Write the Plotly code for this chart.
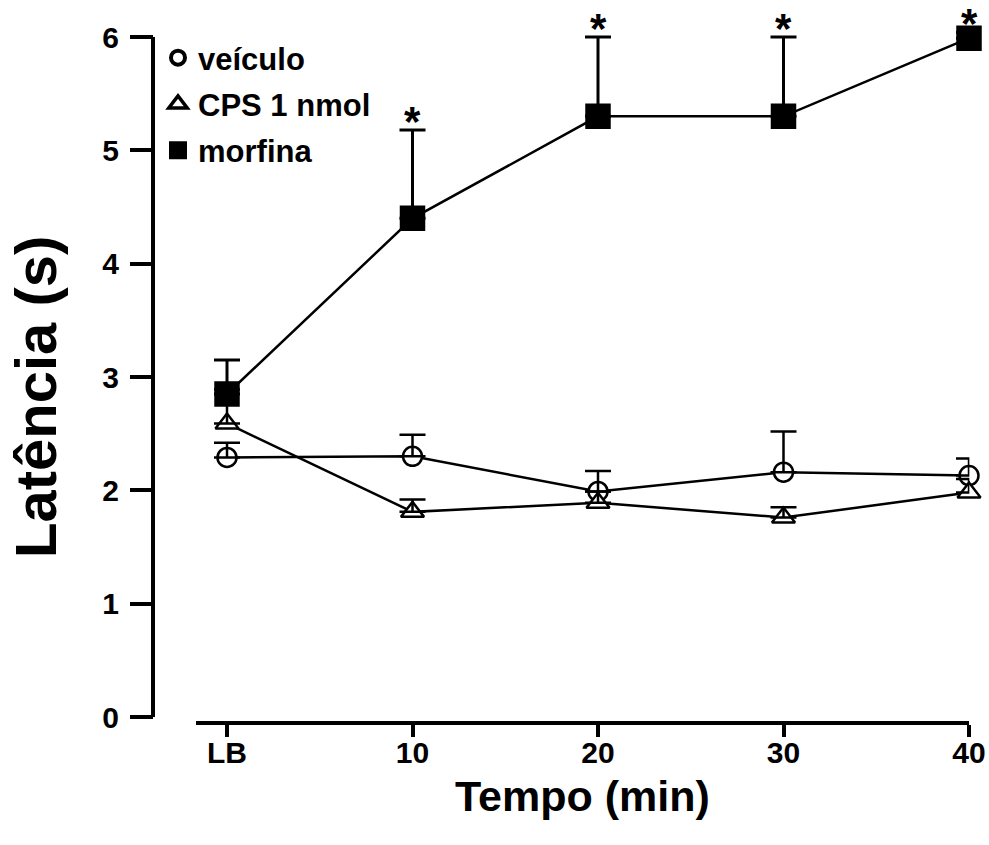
import plotly.graph_objects as go

# Time points (min) and their tick labels
tempo = [0, 10, 20, 30, 40]
tick_labels = ["LB", "10", "20", "30", "40"]

# Mean latency (s) and upper SEM for each group
veiculo_media = [2.29, 2.30, 1.99, 2.16, 2.13]
veiculo_epm = [0.13, 0.19, 0.18, 0.36, 0.15]

cps_media = [2.59, 1.81, 1.89, 1.76, 1.98]
cps_epm = [0.30, 0.11, 0.10, 0.09, 0.12]

morfina_media = [2.85, 4.40, 5.30, 5.30, 5.99]
morfina_epm = [0.30, 0.78, 0.70, 0.70, 0.05]

# Significance marks for the morphine group
signif = ["", "*", "*", "*", "*"]

# Y axis ticks; the drawn axis line stops at the last tick
y_ticks = [0, 1, 2, 3, 4, 5, 6]

FONT = "Liberation Sans, Arial, sans-serif"
W, H = 989, 845

# Pixel geometry of the plotting frame
Y0_PX, Y6_PX = 717, 37          # rows of y=0 and y=6
PX_PER_UNIT = (Y0_PX - Y6_PX) / 6.0
Y_TOP = Y0_PX / PX_PER_UNIT     # value reached at the top edge of the page
X_LB_PX, X_40_PX = 227, 969     # columns of LB and 40 min
PX_PER_MIN = (X_40_PX - X_LB_PX) / 40.0
X_MIN, X_MAX = -1.67, 40.02


def px_x(p):
    return p / W


def px_y(p):
    return (H - p) / H


fig = go.Figure()

series = [
    ("veículo", veiculo_media, veiculo_epm,
     dict(symbol="circle", size=19, color="white", line=dict(color="black", width=2.5))),
    ("CPS 1 nmol", cps_media, cps_epm,
     dict(symbol="triangle-up", size=20, color="white", line=dict(color="black", width=2.5))),
    ("morfina", morfina_media, morfina_epm,
     dict(symbol="square", size=24, color="black", line=dict(color="black", width=1.5))),
]

# Lines and markers
for nome, media, epm, mk in series:
    fig.add_trace(go.Scatter(
        x=tempo, y=media, mode="lines+markers", name=nome,
        line=dict(color="black", width=2.5), marker=mk,
        showlegend=False, cliponaxis=False,
    ))

# Upward error bars (SEM), drawn above the open markers
for nome, media, epm, mk in series:
    fig.add_trace(go.Scatter(
        x=tempo, y=media, mode="markers", name=nome + " EPM",
        marker=dict(size=1, color="rgba(0,0,0,0)"),
        error_y=dict(type="data", symmetric=False, array=epm,
                     arrayminus=[0] * len(epm), color="black",
                     thickness=3 if nome == "morfina" else 2.5, width=13),
        showlegend=False, cliponaxis=False, hoverinfo="skip",
    ))

# Significance asterisks on top of the morphine error bars
for t, m, e, s in zip(tempo, morfina_media, morfina_epm, signif):
    if s:
        fig.add_annotation(
            x=t, y=m + e, xref="x", yref="y", text=s, showarrow=False,
            xanchor="center", yanchor="bottom", yshift=-9,
            height=34, valign="middle", borderpad=0,
            font=dict(family=FONT, size=42, color="black", weight="bold"),
        )

# Legend entries (markers only)
legend_markers = [
    dict(symbol="circle", size=14, color="white", line=dict(color="black", width=4)),
    dict(symbol="triangle-up", size=16, color="white", line=dict(color="black", width=3.5)),
    dict(symbol="square", size=16, color="black", line=dict(color="black", width=2)),
]
for i, ((nome, _, _, _), lm) in enumerate(zip(series, legend_markers)):
    fig.add_trace(go.Scatter(
        x=[None], y=[None], mode="markers", name=nome, marker=lm,
        showlegend=True, legendgroup=f"g{i}",
    ))

# Y axis line, from 0 up to the last tick only
fig.add_shape(
    type="line", xref="paper", yref="y",
    x0=px_x(153), x1=px_x(153), y0=y_ticks[0], y1=y_ticks[-1],
    line=dict(color="black", width=4),
)

# Axis titles
fig.add_annotation(
    x=px_x(35), y=px_y(397), xref="paper", yref="paper", text="Latência (s)",
    textangle=-90, showarrow=False, xanchor="center", yanchor="middle",
    font=dict(family=FONT, size=58, color="black", weight="bold"),
)
fig.add_annotation(
    x=px_x(582), y=px_y(796), xref="paper", yref="paper", text="Tempo (min)",
    showarrow=False, xanchor="center", yanchor="middle",
    font=dict(family=FONT, size=43, color="black", weight="bold"),
)

x_left_px = X_LB_PX + X_MIN * PX_PER_MIN
x_right_px = X_LB_PX + X_MAX * PX_PER_MIN

fig.update_layout(
    width=W, height=H,
    margin=dict(l=0, r=0, t=0, b=0),
    paper_bgcolor="white", plot_bgcolor="white",
    font=dict(family=FONT, color="black"),
    xaxis=dict(
        domain=[px_x(x_left_px), px_x(x_right_px)], range=[X_MIN, X_MAX],
        anchor="free", position=px_y(723),
        tickmode="array", tickvals=tempo, ticktext=tick_labels,
        showline=True, linecolor="black", linewidth=4,
        ticks="outside", ticklen=12, tickwidth=4, tickcolor="black",
        tickfont=dict(family=FONT, size=30, color="black", weight="bold"),
        ticklabelstandoff=-10,
        showgrid=False, zeroline=False, automargin=False,
    ),
    yaxis=dict(
        domain=[px_y(Y0_PX), 1.0], range=[0, Y_TOP],
        anchor="free", position=px_x(153),
        tickmode="array", tickvals=y_ticks,
        showline=False,
        ticks="outside", ticklen=23, tickwidth=4, tickcolor="black",
        tickfont=dict(family=FONT, size=30, color="black", weight="bold"),
        ticklabelstandoff=5,
        showgrid=False, zeroline=False, automargin=False,
    ),
    legend=dict(
        x=px_x(158), y=px_y(31), xanchor="left", yanchor="top",
        bgcolor="rgba(255,255,255,0)", borderwidth=0,
        font=dict(family=FONT, size=31, color="black", weight="bold"),
        tracegroupgap=3, itemsizing="trace",
    ),
    showlegend=True,
)

fig.write_html("out.html")
